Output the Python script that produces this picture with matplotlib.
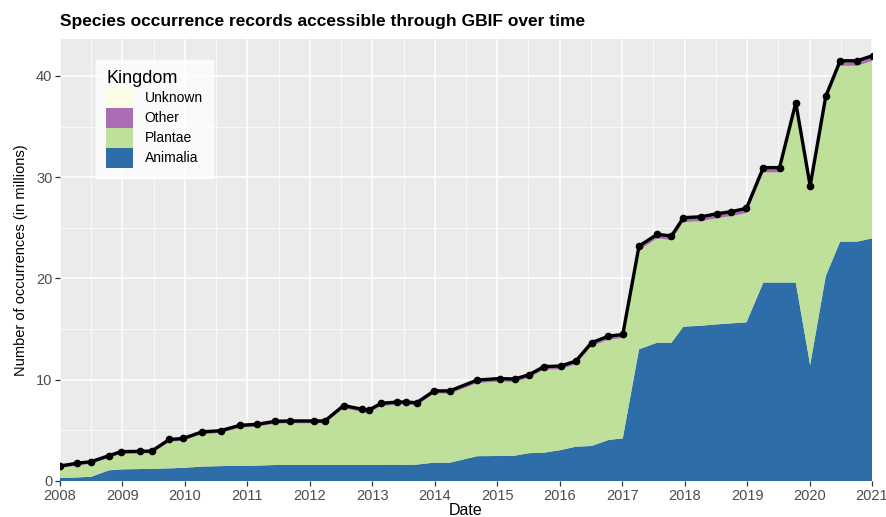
import matplotlib
matplotlib.use("Agg")
import matplotlib.pyplot as plt
from matplotlib.patches import Patch
import numpy as np

plt.rcParams['font.family'] = ['Liberation Sans', 'DejaVu Sans']

# snapshot dates (decimal years) and counts in millions
dates = [2008.00, 2008.27, 2008.50, 2008.78, 2008.98, 2009.28, 2009.47, 2009.75,
         2009.97, 2010.27, 2010.57, 2010.88, 2011.15, 2011.45, 2011.68, 2012.06,
         2012.24, 2012.54, 2012.83, 2012.95, 2013.14, 2013.40, 2013.54, 2013.71,
         2013.99, 2014.24, 2014.68, 2015.04, 2015.28, 2015.51, 2015.75, 2016.02,
         2016.26, 2016.51, 2016.78, 2017.01, 2017.27, 2017.56, 2017.79, 2017.98,
         2018.27, 2018.52, 2018.75, 2018.99, 2019.26, 2019.52, 2019.78, 2020.01,
         2020.26, 2020.49, 2020.76, 2021.01]

total = [1.48, 1.75, 1.91, 2.50, 2.90, 2.93, 2.96, 4.10,
         4.20, 4.85, 4.97, 5.50, 5.60, 5.90, 5.93, 5.93,
         5.93, 7.45, 7.10, 7.02, 7.67, 7.80, 7.80, 7.73,
         8.90, 8.90, 9.97, 10.12, 10.07, 10.50, 11.30, 11.36,
         11.85, 13.66, 14.30, 14.47, 23.20, 24.36, 24.20, 26.00,
         26.10, 26.40, 26.60, 26.93, 30.95, 30.95, 37.36, 29.14,
         38.00, 41.50, 41.50, 42.00]

animalia = [0.30, 0.35, 0.42, 1.05, 1.15, 1.18, 1.20, 1.25,
            1.30, 1.42, 1.47, 1.50, 1.52, 1.58, 1.58, 1.58,
            1.58, 1.58, 1.58, 1.58, 1.60, 1.60, 1.60, 1.62,
            1.81, 1.81, 2.45, 2.47, 2.50, 2.75, 2.80, 3.06,
            3.39, 3.46, 4.05, 4.21, 13.00, 13.66, 13.66, 15.24,
            15.34, 15.47, 15.57, 15.67, 19.60, 19.60, 19.60, 11.46,
            20.25, 23.64, 23.64, 23.97]

other = [0.20, 0.20, 0.20, 0.20, 0.20, 0.20, 0.20, 0.20,
         0.20, 0.22, 0.22, 0.22, 0.22, 0.22, 0.22, 0.22,
         0.22, 0.25, 0.25, 0.25, 0.25, 0.25, 0.25, 0.25,
         0.25, 0.25, 0.28, 0.28, 0.28, 0.28, 0.30, 0.30,
         0.30, 0.32, 0.32, 0.32, 0.38, 0.38, 0.38, 0.42,
         0.42, 0.42, 0.42, 0.45, 0.45, 0.45, 0.30, 0.30,
         0.45, 0.48, 0.48, 0.48]

unknown = [0.02] * len(dates)

# plantae is what remains of the total
plantae = [t - a - o - u for t, a, o, u in zip(total, animalia, other, unknown)]

kingdoms = ['Animalia', 'Plantae', 'Other', 'Unknown']
colors = ['#2d6ea8', '#bee09b', '#ab6db4', '#fcfce4']

fig = plt.figure(figsize=(8.87, 5.17), dpi=100)
ax = fig.add_axes([60/887, 1 - 481/517, 812/887, 442/517])
ax.set_facecolor('#ebebeb')

ax.stackplot(dates, animalia, plantae, other, unknown, colors=colors,
             linewidth=0, zorder=2)
ax.plot(dates, total, color='black', lw=2.4, zorder=3)
ax.plot(dates, total, 'o', color='black', ms=4.5, zorder=4)

ax.set_xlim(2008, 2021)
ax.set_ylim(0, 43.65)
ax.set_xticks(range(2008, 2022))
ax.set_xticks(np.arange(2008.5, 2021, 1.0), minor=True)
ax.set_yticks([0, 10, 20, 30, 40])
ax.set_yticks([5, 15, 25, 35], minor=True)
ax.grid(True, which='major', color='white', lw=1.1, zorder=0)
ax.grid(True, which='minor', color='white', lw=0.5, zorder=0)
ax.set_axisbelow(True)
for s in ax.spines.values():
    s.set_visible(False)
ax.tick_params(which='major', length=3.5, width=0.9, color='#333333',
               labelcolor='#4d4d4d', labelsize=10.5, pad=2)
ax.tick_params(which='minor', length=0)

ax.set_xlabel('Date', fontsize=11.5, labelpad=0)
ax.set_ylabel('Number of occurrences (in millions)', fontsize=10.5, labelpad=6)
fig.text(60/887, 1 - 26/517, 'Species occurrence records accessible through GBIF over time',
         fontsize=12.5, fontweight='bold', ha='left', va='baseline')

handles = [Patch(facecolor=c, edgecolor='none') for c in colors][::-1]
leg = ax.legend(handles, kingdoms[::-1], title='Kingdom', loc='upper left',
                bbox_to_anchor=(36/812, 1 - 21/442), borderaxespad=0,
                frameon=True, fancybox=False,
                fontsize=10, title_fontsize=13, handlelength=1.9, handleheight=1.85,
                labelspacing=0.0, handletextpad=0.85, borderpad=0.75)
leg._legend_box.align = 'left'
leg.get_frame().set_edgecolor('white')
leg.get_frame().set_facecolor('white')

fig.savefig('out.png', dpi=100)
